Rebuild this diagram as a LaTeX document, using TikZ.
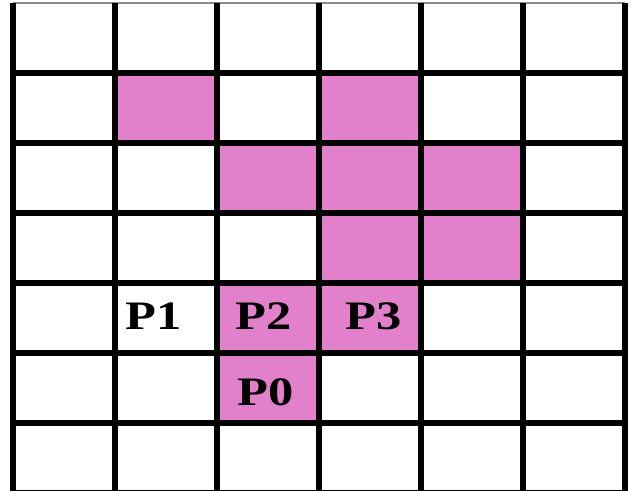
\documentclass[tikz,border=0pt]{standalone}
\usepackage{fontspec}
\setmainfont{Liberation Serif}
\usepackage{xcolor}
\usepackage{tikz}
\definecolor{cellpink}{RGB}{226,128,204}
\newcommand\widetext[1]{\scalebox{1.25}[1]{#1}}

\begin{document}
\begin{tikzpicture}[
  x=2.04cm, y=-1.4cm,
  filled/.style={fill=cellpink},
  gridline/.style={line width=3pt, black},
  border/.style={line width=0.6pt, black!45},
  lbl/.style={font=\fontsize{23}{23}\selectfont\bfseries, inner sep=0pt}
]
\useasboundingbox (-0.127,-0.043) rectangle (6.059,6.971);
\clip (-0.127,-0.043) rectangle (6.059,6.971);
% shaded cells (column/row)
\foreach \c/\r in {1/1,3/1,2/2,3/2,4/2,3/3,4/3,2/4,3/4,2/5}
  \fill[filled] (\c,\r) rectangle ++(1,1);
% grid
\draw[border] (0,0) -- (6,0);
\foreach \r in {1,...,7}
  \draw[gridline, line cap=rect] (0,\r) -- (6,\r);
\foreach \c in {0,...,6}
  \draw[gridline] (\c,0) -- (\c,7.2);
% labels
\node[lbl] (p1) at (1.38,4.47) {\widetext{P1}};
\node[lbl] (p2) at (2.46,4.47) {\widetext{P2}};
\node[lbl] (p3) at (3.54,4.47) {\widetext{P3}};
\node[lbl] (p0) at (2.48,5.56) {\widetext{P0}};
\end{tikzpicture}
\end{document}
